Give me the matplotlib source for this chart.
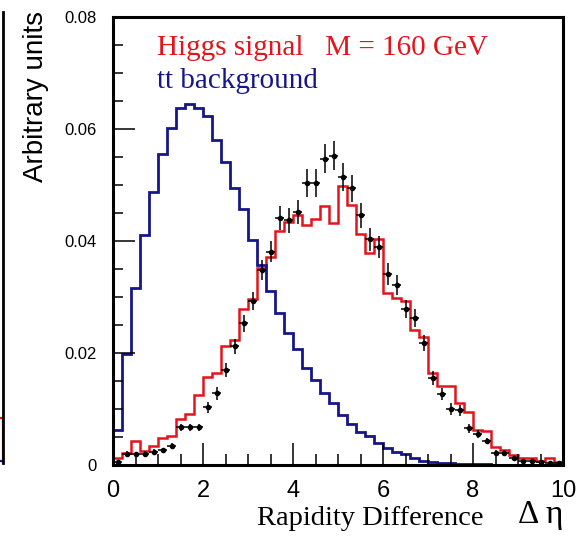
import numpy as np
import matplotlib.pyplot as plt

# rapidity difference histograms, bin width 0.2 from 0 to 10
bin_edges = np.arange(51) * 0.2

# tt background (blue)
tt_bkg = [0.0062, 0.0199, 0.0316, 0.0411, 0.0487, 0.0556, 0.0602, 0.0638, 0.0645, 0.0638,
          0.0623, 0.0580, 0.0541, 0.0495, 0.0458, 0.0401, 0.0357, 0.0310, 0.0271, 0.0235,
          0.0208, 0.0174, 0.0152, 0.0128, 0.0110, 0.0089, 0.0074, 0.0059, 0.0051, 0.0039,
          0.0030, 0.0024, 0.0019, 0.0012, 0.0008, 0.0005, 0.0004, 0.0003, 0.0002, 0.00015,
          0.0001, 0.0001, 0.00006, 0.00005, 0.00004, 0.00003, 0.00002, 0.00002, 0.00001, 0.00001]

# Higgs signal M = 160 GeV (red)
higgs_sig = [0.0013, 0.0021, 0.0042, 0.0025, 0.0034, 0.0049, 0.0052, 0.0082, 0.0091, 0.0125,
             0.0158, 0.0165, 0.0212, 0.0223, 0.0279, 0.0296, 0.0351, 0.0372, 0.0417, 0.0434,
             0.0446, 0.0429, 0.0439, 0.0463, 0.0433, 0.0498, 0.0465, 0.0413, 0.0379, 0.0404,
             0.0307, 0.0298, 0.0292, 0.0241, 0.0229, 0.0165, 0.0141, 0.0141, 0.0111, 0.0095,
             0.0063, 0.0060, 0.0033, 0.0027, 0.0018, 0.0012, 0.0012, 0.0007, 0.0012, 0.0006]

# points with error bars (black), at bin centres
pts_x = np.arange(50) * 0.2 + 0.1
pts_y = [0.0006, 0.0020, 0.0019, 0.0020, 0.0023, 0.0026, 0.0034, 0.0067, 0.0067, 0.0067,
         0.0103, 0.0128, 0.0170, 0.0212, 0.0253, 0.0293, 0.0348, 0.0381, 0.0441, 0.0437,
         0.0452, 0.0504, 0.0504, 0.0547, 0.0552, 0.0515, 0.0494, 0.0446, 0.0403, 0.0389,
         0.0341, 0.0321, 0.0278, 0.0262, 0.0218, 0.0155, 0.0127, 0.0100, 0.0098, 0.0066,
         0.0055, 0.0043, 0.0021, 0.0021, 0.0012, 0.0008, 0.0007, 0.0005, 0.0004, 0.0003]
pts_err = [0.0003, 0.0005, 0.0005, 0.0005, 0.0005, 0.0005, 0.0006, 0.0007, 0.0007, 0.0007,
           0.0010, 0.0012, 0.0012, 0.0013, 0.0015, 0.0016, 0.0018, 0.0019, 0.0022, 0.0022,
           0.0022, 0.0025, 0.0025, 0.0026, 0.0026, 0.0025, 0.0024, 0.0022, 0.0021, 0.0020,
           0.0019, 0.0018, 0.0016, 0.0016, 0.0014, 0.0012, 0.0011, 0.0010, 0.0010, 0.0008,
           0.0007, 0.0006, 0.0005, 0.0005, 0.0004, 0.0003, 0.0003, 0.0003, 0.0002, 0.0002]

# sliver of the neighbouring panel on the left
nb_edges = [9.6, 9.8, 10.0]
nb_red = [0.0080, 0.0080]
nb_blue = [0.0003, 0.0003]

RED = '#e3141c'
BLUE = '#16168a'
sans = 'Liberation Sans'
serif = 'Liberation Serif'

fig = plt.figure(figsize=(5.81, 5.37), dpi=100)

# neighbour panel stub
ax0 = fig.add_axes([(3 - 60) / 581, 74 / 537, 60 / 581, 451 / 537])
ax0.stairs(nb_red, nb_edges, color=RED, lw=1.6)
ax0.stairs(nb_blue, nb_edges, color=BLUE, lw=1.6)
ax0.set_xlim(9.0, 10.0)
ax0.set_ylim(0, 0.08)
for s in ['top', 'left', 'bottom']:
    ax0.spines[s].set_visible(False)
ax0.spines['right'].set_linewidth(2.0)
ax0.set_xticks([])
ax0.set_yticks([])
ax0.patch.set_alpha(0)

# main panel
ax = fig.add_axes([113 / 581, 72 / 537, 450 / 581, 448 / 537])
ax.stairs(higgs_sig, bin_edges, color=RED, lw=1.8, baseline=0)
ax.stairs(tt_bkg, bin_edges, color=BLUE, lw=2.0, baseline=0)
ax.errorbar(pts_x, pts_y, yerr=pts_err, xerr=0.1, fmt='o', color='black',
            ms=3, elinewidth=1.1, capsize=0, zorder=5)

ax.set_xlim(0, 10)
ax.set_ylim(0, 0.08)
ax.set_xticks([0, 2, 4, 6, 8, 10])
ax.set_xticks(np.arange(0, 10.01, 0.5), minor=True)
ax.set_yticks([0, 0.02, 0.04, 0.06, 0.08])
ax.set_yticklabels(['0', '0.02', '0.04', '0.06', '0.08'])
ax.set_yticks(np.arange(0, 0.0801, 0.005), minor=True)

ax.tick_params(axis='both', which='both', direction='in', top=False, right=False, width=1.1)
ax.tick_params(axis='x', which='major', length=16, pad=11, labelsize=17)
ax.tick_params(axis='x', which='minor', length=8)
ax.tick_params(axis='y', which='major', length=16, pad=12, labelsize=12)
ax.tick_params(axis='y', which='minor', length=7)
for lab in ax.get_xticklabels() + ax.get_yticklabels():
    lab.set_fontfamily(sans)
for s in ax.spines.values():
    s.set_linewidth(2.2)

ax.text(0.098, 0.915, 'Higgs signal   M = 160 GeV', transform=ax.transAxes,
        color=RED, fontsize=21, family=serif, va='baseline', ha='left')
ax.text(0.098, 0.8415, 'tt background', transform=ax.transAxes,
        color=BLUE, fontsize=21, family=serif, va='baseline', ha='left')

fig.text(36 / 581, (537 - 97) / 537, 'Arbitrary units', rotation=90,
         fontsize=20, family=sans, ha='center', va='center')
fig.text(257 / 581, 12 / 537, 'Rapidity Difference', fontsize=20.5,
         family=serif, ha='left', va='baseline')
fig.text(518 / 581, 14 / 537, '\u0394 \u03b7', fontsize=24,
         family=serif, ha='left', va='baseline')

fig.savefig('out.png', dpi=100)
